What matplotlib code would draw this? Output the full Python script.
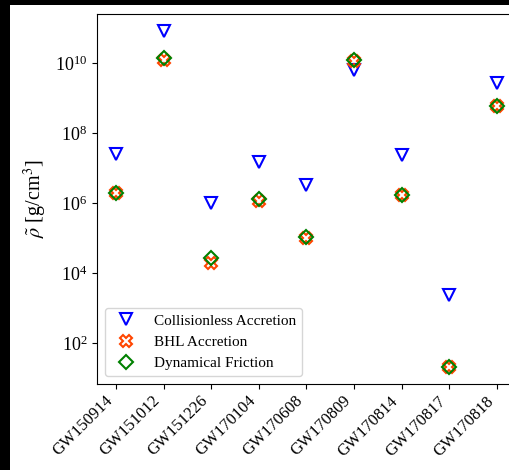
import matplotlib
matplotlib.use("Agg")
import matplotlib.pyplot as plt
from matplotlib.patches import Rectangle
import numpy as np

plt.rcParams['font.family'] = ['Liberation Serif', 'DejaVu Serif']
plt.rcParams['mathtext.fontset'] = 'stix'

events = ["GW150914", "GW151012", "GW151226", "GW170104", "GW170608",
          "GW170809", "GW170814", "GW170817", "GW170818"]

# log10 of rho tilde [g/cm^3]
log_collisionless = [7.40, 10.91, 6.00, 7.17, 6.51, 9.80, 7.37, 3.37, 9.43]
log_bhl = [6.29, 10.09, 4.29, 6.06, 5.00, 10.05, 6.23, 1.31, 8.77]
log_dynfric = [6.29, 10.14, 4.43, 6.11, 5.03, 10.09, 6.23, 1.31, 8.77]

rho_coll = 10.0 ** np.array(log_collisionless)
rho_bhl = 10.0 ** np.array(log_bhl)
rho_df = 10.0 ** np.array(log_dynfric)

W, H = 510, 470
fig = plt.figure(figsize=(W / 100, H / 100), dpi=100)
fig.patch.set_facecolor('black')
fig.patches.append(Rectangle((10 / W, 0), 1, 1 - 5 / H, transform=fig.transFigure,
                             facecolor='white', edgecolor='none', zorder=-10))

ax = fig.add_axes([97 / W, 1 - 384 / H, 419 / W, 370 / H])
x = np.arange(len(events))

ax.plot(x, rho_coll, linestyle='none', marker='v', markersize=8.5,
        markerfacecolor='none', markeredgecolor='blue', markeredgewidth=1.5,
        label='Collisionless Accretion')
ax.plot(x, rho_bhl, linestyle='none', marker='X', markersize=9,
        markerfacecolor='none', markeredgecolor='orangered', markeredgewidth=1.5,
        label='BHL Accretion')
ax.plot(x, rho_df, linestyle='none', marker='D', markersize=7.5,
        markerfacecolor='none', markeredgecolor='green', markeredgewidth=1.5,
        label='Dynamical Friction')

ax.set_yscale('log')
ax.set_ylim(10 ** 0.83, 10 ** 11.4)
ax.set_xlim(-0.4, 8.4)
ax.set_xticks(x)
ax.set_xticklabels(events, rotation=45, ha='right', fontsize=12)
ax.tick_params(axis='x', pad=3)
ax.tick_params(axis='y', labelsize=13)
ax.set_ylabel(r'$\tilde{\rho}$ [g/cm$^3$]', fontsize=14.5)

ax.legend(loc='lower left', fontsize=11, frameon=True)

fig.savefig('out.png', dpi=100, facecolor=fig.get_facecolor())
